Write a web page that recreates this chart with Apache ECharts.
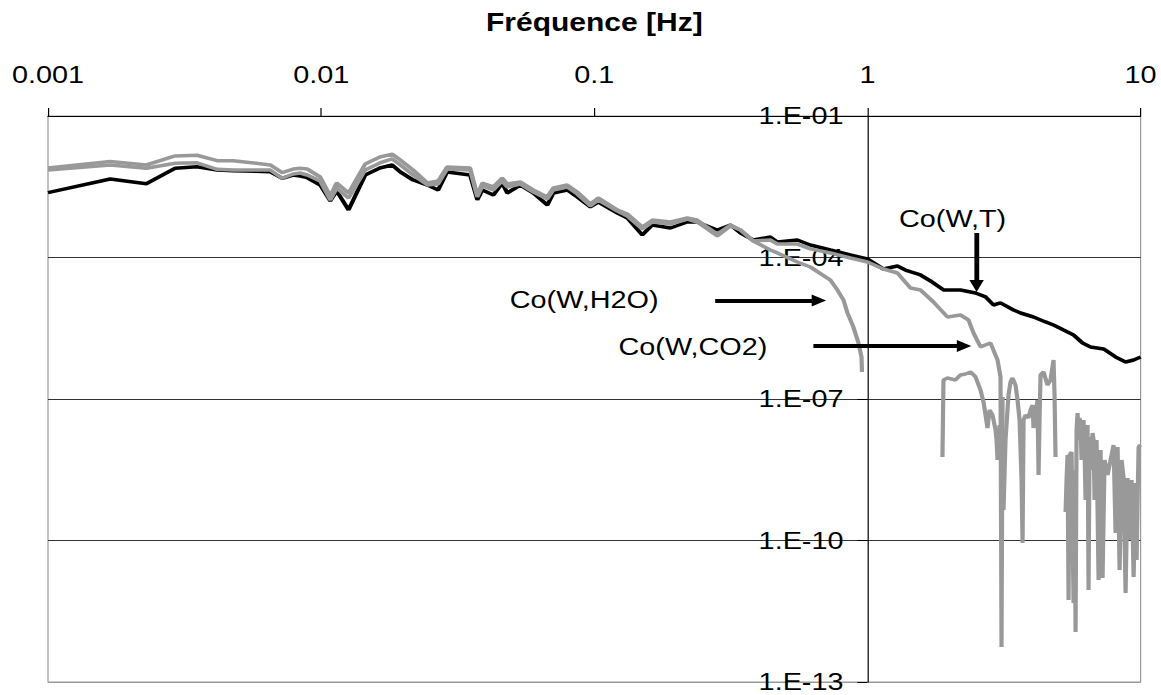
<!DOCTYPE html>
<html>
<head>
<meta charset="utf-8">
<script src="https://cdn.jsdelivr.net/npm/echarts@6/dist/echarts.min.js"></script>
<style>
  html, body { margin: 0; padding: 0; background: #fff; overflow: hidden; }
  /* the figure is laid out narrower and widened horizontally */
  #chart { width: 967.5px; height: 695px; transform: scaleX(1.2); transform-origin: 0 0; }
</style>
</head>
<body>
<div id="chart"></div>
<script>
// Co-spectra [frequency (Hz), value]
const coWT = [
  [0.001, 2.37e-3], [0.00169, 4.62e-3], [0.00229, 3.67e-3], [0.00292, 7.78e-3], [0.00351, 8.42e-3],
  [0.00416, 7.17e-3], [0.00476, 6.93e-3], [0.00651, 6.60e-3], [0.0072, 4.78e-3], [0.0079, 5.61e-3],
  [0.00838, 5.35e-3], [0.00889, 4.92e-3], [0.00992, 3.44e-3], [0.0108, 1.58e-3], [0.0114, 2.57e-3],
  [0.0126, 1.02e-3], [0.0145, 5.61e-3], [0.0164, 7.90e-3], [0.0182, 9.15e-3], [0.0195, 6.50e-3],
  [0.0217, 4.40e-3], [0.0245, 3.44e-3], [0.0268, 2.70e-3], [0.0289, 6.50e-3], [0.0351, 5.61e-3],
  [0.0373, 1.66e-3], [0.0389, 2.70e-3], [0.0427, 2.11e-3], [0.046, 3.80e-3], [0.048, 2.33e-3],
  [0.0536, 3.44e-3], [0.0598, 2.33e-3], [0.0673, 1.30e-3], [0.0708, 2.33e-3], [0.0796, 2.70e-3],
  [0.0866, 1.92e-3], [0.0967, 1.18e-3], [0.1034, 1.50e-3], [0.1214, 8.78e-4], [0.1321, 6.88e-4],
  [0.1499, 3.00e-4], [0.1632, 4.89e-4], [0.19, 4.22e-4], [0.219, 5.66e-4], [0.238, 5.66e-4],
  [0.282, 3.83e-4], [0.315, 4.89e-4], [0.343, 3.31e-4], [0.382, 2.35e-4], [0.441, 2.72e-4],
  [0.468, 2.13e-4], [0.554, 2.35e-4], [0.618, 1.84e-4], [0.732, 1.44e-4], [0.866, 1.13e-4],
  [1.0, 9.30e-5], [1.144, 5.71e-5], [1.288, 6.61e-5], [1.377, 5.43e-5], [1.564, 4.26e-5],
  [1.701, 3.18e-5], [1.898, 2.05e-5], [2.014, 2.05e-5], [2.191, 2.05e-5], [2.487, 1.77e-5],
  [2.706, 1.46e-5], [2.894, 9.84e-6], [3.07, 1.09e-5], [3.425, 7.71e-6], [3.635, 6.66e-6],
  [4.056, 5.48e-6], [4.487, 4.30e-6], [4.8, 3.71e-6], [5.224, 2.90e-6], [5.683, 2.28e-6],
  [6.131, 1.54e-6], [6.559, 1.27e-6], [7.319, 1.15e-6], [8.098, 7.78e-7], [8.811, 6.09e-7],
  [9.428, 6.72e-7], [10, 7.78e-7]
];

const coWH2O = [
  [0.001, 7.90e-3], [0.00169, 1.08e-2], [0.00229, 9.15e-3], [0.00292, 1.42e-2], [0.00351, 1.47e-2],
  [0.00416, 1.13e-2], [0.00476, 1.13e-2], [0.00651, 9.15e-3], [0.0072, 6.28e-3], [0.0079, 7.52e-3],
  [0.00838, 7.78e-3], [0.00889, 7.52e-3], [0.00992, 5.09e-3], [0.0108, 2.01e-3], [0.0114, 3.80e-3],
  [0.0126, 2.33e-3], [0.0145, 9.60e-3], [0.0164, 1.35e-2], [0.0182, 1.56e-2], [0.0195, 1.17e-2],
  [0.0217, 7.17e-3], [0.0245, 3.80e-3], [0.0268, 4.19e-3], [0.0289, 8.30e-3], [0.0351, 7.90e-3],
  [0.0373, 2.11e-3], [0.0389, 3.80e-3], [0.0427, 3.13e-3], [0.046, 4.85e-3], [0.048, 3.62e-3],
  [0.0536, 3.99e-3], [0.0598, 2.70e-3], [0.0673, 1.92e-3], [0.0708, 2.98e-3], [0.0796, 3.44e-3],
  [0.0866, 2.45e-3], [0.0967, 1.36e-3], [0.1034, 1.83e-3], [0.1214, 1.02e-3], [0.1321, 8.36e-4],
  [0.1499, 4.43e-4], [0.1632, 6.24e-4], [0.19, 5.66e-4], [0.219, 6.88e-4], [0.238, 6.24e-4],
  [0.282, 3.15e-4], [0.315, 4.89e-4], [0.343, 3.83e-4], [0.382, 2.24e-4], [0.441, 1.44e-4],
  [0.468, 1.25e-4], [0.554, 8.03e-5], [0.618, 6.29e-5], [0.732, 3.33e-5], [0.776, 2.05e-5],
  [0.817, 1.26e-5], [0.845, 6.66e-6], [0.888, 3.36e-6], [0.927, 1.54e-6], [0.951, 7.78e-7],
  [0.955, 3.74e-7], [1.0, null],
  [1.882, 5.90e-9], [1.898, 2.53e-7], [1.963, 2.79e-7], [2.10, 2.53e-7], [2.191, 3.23e-7],
  [2.286, 3.39e-7], [2.384, 3.74e-7], [2.487, 2.93e-7], [2.594, 1.55e-7], [2.66, 8.65e-8],
  [2.706, 4.58e-8], [2.751, 2.43e-8], [2.798, 5.85e-8], [2.87, 4.58e-8], [2.944, 2.20e-8],
  [2.969, 1.35e-8], [2.994, 5.10e-9], [3.019, 1.35e-8], [3.045, 2.81e-8], [3.149, 4.44e-10],
  [3.202, 1.35e-8], [3.284, 1.22e-7], [3.34, 2.30e-7], [3.397, 2.79e-7], [3.484, 1.98e-7],
  [3.544, 9.53e-8], [3.605, 3.59e-8], [3.666, 1.92e-9], [3.697, 8.86e-11], [3.728, 3.59e-8],
  [3.792, 4.58e-8], [3.888, 3.96e-8], [3.955, 5.85e-8], [4.022, 7.47e-8], [4.056, 2.43e-8],
  [4.125, 4.58e-8], [4.195, 9.53e-8], [4.231, 2.45e-9], [4.266, 3.59e-8], [4.302, 3.23e-7],
  [4.412, 3.74e-7], [4.563, 1.98e-7], [4.68, 2.53e-7], [4.8, 6.72e-7], [4.841, 1.22e-7],
  [4.882, 5.90e-9], [5.0, null],
  [5.313, 4.03e-10], [5.357, 1.92e-9], [5.402, 6.50e-9], [5.448, 5.48e-12], [5.495, 6.50e-9],
  [5.588, 7.53e-9], [5.683, 4.74e-12], [5.731, 3.13e-9], [5.78, 1.15e-12], [5.829, 2.20e-8],
  [5.878, 5.05e-8], [5.927, 1.35e-8], [5.977, 3.96e-8], [6.028, 2.81e-8], [6.079, 5.10e-9],
  [6.131, 2.20e-8], [6.183, 3.59e-8], [6.235, 8.30e-9], [6.288, 7.23e-10], [6.341, 2.20e-8],
  [6.395, 2.81e-8], [6.449, 8.94e-12], [6.504, 1.35e-8], [6.559, 1.57e-8], [6.614, 3.13e-9],
  [6.67, 1.90e-8], [6.727, 1.35e-8], [6.784, 7.23e-10], [6.899, 1.35e-8], [7.017, 1.46e-11],
  [7.136, 8.30e-9], [7.257, 1.61e-11], [7.381, 5.10e-9], [7.57, 2.45e-9], [7.963, 1.06e-8],
  [8.098, 1.44e-10], [8.237, 9.61e-9], [8.377, 2.37e-11], [8.519, 5.10e-9], [8.664, 2.12e-9],
  [8.811, 7.72e-12], [8.961, 2.12e-9], [9.114, 1.03e-10], [9.268, 1.92e-9], [9.428, 1.69e-11],
  [9.588, 1.66e-9], [9.668, 3.87e-11], [9.75, 7.23e-10], [9.833, 9.61e-9], [10, 1.06e-8]
];

const coWCO2 = [
  [0.001, 7.17e-3], [0.00169, 9.15e-3], [0.00229, 7.78e-3], [0.00292, 9.94e-3], [0.00351, 1.02e-2],
  [0.00416, 7.41e-3], [0.00476, 7.17e-3], [0.00651, 7.17e-3], [0.0072, 4.78e-3], [0.0079, 5.89e-3],
  [0.00838, 6.19e-3], [0.00889, 5.61e-3], [0.00992, 4.19e-3], [0.0108, 1.66e-3], [0.0114, 2.98e-3],
  [0.0126, 1.83e-3], [0.0145, 7.17e-3], [0.0164, 1.01e-2], [0.0182, 1.23e-2], [0.0195, 9.15e-3],
  [0.0217, 5.61e-3], [0.0245, 3.44e-3], [0.0268, 3.62e-3], [0.0289, 7.52e-3], [0.0351, 7.17e-3],
  [0.0373, 1.92e-3], [0.0389, 3.28e-3], [0.0427, 2.70e-3], [0.046, 4.19e-3], [0.048, 3.13e-3],
  [0.0536, 3.62e-3], [0.0598, 2.45e-3], [0.0673, 1.74e-3], [0.0708, 2.70e-3], [0.0796, 3.13e-3],
  [0.0866, 2.22e-3], [0.0967, 1.24e-3], [0.1034, 1.66e-3], [0.1214, 9.68e-4], [0.1321, 7.59e-4],
  [0.1499, 4.02e-4], [0.1632, 5.66e-4], [0.19, 5.13e-4], [0.219, 6.55e-4], [0.238, 5.66e-4],
  [0.282, 2.86e-4], [0.315, 4.66e-4], [0.343, 3.83e-4], [0.382, 2.24e-4], [0.441, 2.35e-4],
  [0.468, 1.93e-4], [0.554, 1.93e-4], [0.618, 1.52e-4], [0.732, 1.25e-4], [0.866, 9.76e-5],
  [1.0, 8.03e-5], [1.144, 5.71e-5], [1.288, 4.69e-5], [1.437, 2.26e-5], [1.564, 2.05e-5],
  [1.745, 1.14e-5], [1.963, 5.48e-6], [2.191, 6.04e-6], [2.344, 4.73e-6], [2.445, 2.51e-6],
  [2.594, 1.27e-6], [2.822, 1.54e-6], [2.994, 6.72e-7], [3.07, 2.93e-7], [3.096, 5.53e-13],
  [3.123, 1.10e-7]
];

const xTickRange = [0.001, 10];
const yTickRange = [1e-13, 1e-1];

// Annotation texts and arrows, placed in data coordinates
const labelTexts = ['Co(W,T)', 'Co(W,H2O)', 'Co(W,CO2)'];
const labelAnchors = [[2.05, 6.55e-4], [0.0918, 1.26e-5], [0.2297, 1.27e-6]];
const arrowSpans = [
  [[2.51, 3.31e-4], [2.51, 2.49e-5]],
  [[0.277, 1.23e-5], [0.664, 1.23e-5]],
  [[0.634, 1.33e-6], [2.257, 1.33e-6]]
];

const FONT = "'Liberation Sans', Arial, Helvetica, sans-serif";
const GRAY = '#999999';

function fmtFreq(v) { return String(Number(v.toPrecision(6))); }
function fmtExp(v) {
  const e = Math.round(Math.log10(v));
  return '1.E' + (e < 0 ? '-' : '+') + String(Math.abs(e)).padStart(2, '0');
}

const chart = echarts.init(document.getElementById('chart'), null, { renderer: 'svg' });

const option = {
  animation: false,
  backgroundColor: '#ffffff',
  textStyle: { fontFamily: FONT },
  grid: {
    left: 40, right: 17.5, top: 116, bottom: 13,
    show: true, borderColor: '#999999', borderWidth: 1, backgroundColor: 'transparent',
    outerBoundsMode: 'none'
  },
  xAxis: {
    type: 'log', logBase: 10, position: 'top',
    min: xTickRange[0], max: xTickRange[1],
    name: 'Fréquence [Hz]', nameLocation: 'middle', nameGap: 81,
    nameTextStyle: { fontFamily: FONT, fontSize: 25, fontWeight: 'bold', color: '#000' },
    axisLine: { show: true, lineStyle: { color: '#000', width: 1 } },
    axisTick: { show: true, length: 8, lineStyle: { color: '#000', width: 1 } },
    axisLabel: { fontFamily: FONT, fontSize: 24, color: '#000', margin: 29, formatter: fmtFreq },
    splitLine: { show: false },
    minorTick: { show: false }
  },
  yAxis: {
    type: 'log', logBase: 10,
    min: yTickRange[0], max: yTickRange[1], interval: 3,
    axisLine: { show: true, lineStyle: { color: '#000', width: 1 } },
    axisTick: { show: true, length: 8.5, lineStyle: { color: '#000', width: 1 } },
    axisLabel: { fontFamily: FONT, fontSize: 24, color: '#000', margin: 20, formatter: fmtExp },
    splitLine: { show: true, lineStyle: { color: ['#999999', '#333333', '#333333', '#333333', '#333333'], width: 1 } },
    minorTick: { show: false }
  },
  series: [
    {
      name: 'Co(W,T)', type: 'line', data: coWT, showSymbol: false, symbol: 'none',
      lineStyle: { color: '#000000', width: 3.5 }, connectNulls: false, silent: true, z: 2
    },
    {
      name: 'Co(W,H2O)', type: 'line', data: coWH2O, showSymbol: false, symbol: 'none',
      lineStyle: { color: GRAY, width: 3.5 }, connectNulls: false, silent: true, z: 3
    },
    {
      name: 'Co(W,CO2)', type: 'line', data: coWCO2, showSymbol: false, symbol: 'none',
      lineStyle: { color: GRAY, width: 3.5 }, connectNulls: false, silent: true, z: 3
    },
    {
      name: 'annotations', type: 'scatter', silent: true, z: 5,
      symbolSize: 0, itemStyle: { color: '#000000', opacity: 1 },
      data: labelTexts.map((t, i) => ({ name: t, value: labelAnchors[i] })),
      label: {
        show: true, position: [0, 0], align: 'center', verticalAlign: 'middle',
        formatter: '{b}', fontFamily: FONT, fontSize: 24, color: '#000000',
        opacity: 1, textBorderWidth: 0
      },
      markLine: {
        silent: true, animation: false,
        symbol: ['none', 'triangle'], symbolSize: [12, 12],
        lineStyle: { color: '#000', width: 4, type: 'solid' },
        label: { show: false },
        data: arrowSpans.map(s => [{ coord: s[0] }, { coord: s[1] }])
      }
    }
  ]
};

chart.setOption(option);

// the value axis crosses the frequency axis at 1 Hz
const xLeft = chart.convertToPixel({ xAxisIndex: 0 }, xTickRange[0]);
const xAtOne = chart.convertToPixel({ xAxisIndex: 0 }, 1);
chart.setOption({ yAxis: { offset: xLeft - xAtOne } });
</script>
</body>
</html>
